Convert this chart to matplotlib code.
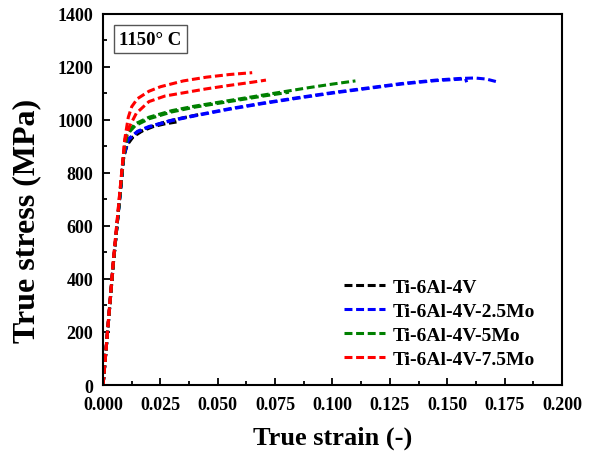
import matplotlib
matplotlib.use("Agg")
import matplotlib.pyplot as plt
from matplotlib.ticker import MultipleLocator, FormatStrFormatter

plt.rcParams['font.family'] = ['Liberation Serif', 'DejaVu Serif']
plt.rcParams['font.weight'] = 'bold'

# flow curves at 1150 C, two tests per alloy (strain, stress in MPa)
ti64_a_strain = [0, 0.0045, 0.0090, 0.0105, 0.013, 0.017, 0.022, 0.027, 0.032]
ti64_a_stress = [0, 460, 860, 905, 935, 958, 975, 985, 992]
ti64_b_strain = [0, 0.0045, 0.0090, 0.0105, 0.014, 0.020, 0.027, 0.035, 0.043]
ti64_b_stress = [0, 460, 860, 912, 945, 972, 992, 1008, 1022]

mo25_a_strain = [0, 0.0045, 0.009, 0.011, 0.015, 0.020, 0.030, 0.040, 0.055, 0.070,
                 0.085, 0.100, 0.115, 0.130, 0.145, 0.155, 0.158, 0.1585]
mo25_a_stress = [0, 460, 865, 925, 955, 973, 997, 1015, 1040, 1062,
                 1082, 1101, 1118, 1135, 1148, 1153, 1155, 1142]
mo25_b_strain = [0, 0.0045, 0.009, 0.011, 0.015, 0.020, 0.030, 0.040, 0.055, 0.070,
                 0.085, 0.100, 0.115, 0.130, 0.145, 0.155, 0.162, 0.167, 0.172]
mo25_b_stress = [0, 460, 865, 928, 957, 975, 999, 1017, 1042, 1064,
                 1084, 1103, 1120, 1137, 1150, 1156, 1158, 1154, 1143]

mo5_a_strain = [0, 0.0045, 0.009, 0.0105, 0.014, 0.020, 0.030, 0.040, 0.050, 0.060,
                0.070, 0.080, 0.090, 0.100, 0.110]
mo5_a_stress = [0, 460, 870, 950, 985, 1010, 1035, 1052, 1066, 1080,
                1094, 1108, 1122, 1135, 1147]
mo5_b_strain = [0, 0.0045, 0.009, 0.0105, 0.014, 0.020, 0.030, 0.040, 0.050, 0.060,
                0.070, 0.081]
mo5_b_stress = [0, 460, 870, 945, 978, 1004, 1030, 1048, 1062, 1076, 1090, 1104]

mo75_a_strain = [0, 0.0045, 0.0095, 0.011, 0.0125, 0.015, 0.020, 0.025, 0.035, 0.045,
                 0.055, 0.065]
mo75_a_stress = [0, 470, 930, 1010, 1050, 1080, 1108, 1125, 1147, 1161, 1171, 1178]
mo75_b_strain = [0, 0.0045, 0.0095, 0.0115, 0.0145, 0.020, 0.027, 0.035, 0.045, 0.055,
                 0.065, 0.071]
mo75_b_stress = [0, 470, 925, 975, 1025, 1069, 1090, 1102, 1117, 1130, 1142, 1150]

alloys = ["Ti-6Al-4V", "Ti-6Al-4V-2.5Mo", "Ti-6Al-4V-5Mo", "Ti-6Al-4V-7.5Mo"]
colors = ["black", "#0000ff", "#008000", "#ff0000"]
curves = [
    [(ti64_a_strain, ti64_a_stress), (ti64_b_strain, ti64_b_stress)],
    [(mo25_a_strain, mo25_a_stress), (mo25_b_strain, mo25_b_stress)],
    [(mo5_a_strain, mo5_a_stress), (mo5_b_strain, mo5_b_stress)],
    [(mo75_a_strain, mo75_a_stress), (mo75_b_strain, mo75_b_stress)],
]

fig = plt.figure(figsize=(5.89, 4.56), dpi=100)
ax = fig.add_axes([0.175, 0.1535, 0.779, 0.814])

for name, color, tests in zip(alloys, colors, curves):
    for i, (x, y) in enumerate(tests):
        ax.plot(x, y, color=color, lw=2.2, dashes=(2.6, 1.2),
                label=name if i == 0 else None)

ax.set_xlim(0, 0.2)
ax.set_ylim(0, 1400)
ax.xaxis.set_major_locator(MultipleLocator(0.025))
ax.xaxis.set_minor_locator(MultipleLocator(0.0125))
ax.yaxis.set_major_locator(MultipleLocator(200))
ax.yaxis.set_minor_locator(MultipleLocator(100))
ax.xaxis.set_major_formatter(FormatStrFormatter('%.3f'))
ax.tick_params(which='both', direction='in', top=False, right=False,
               labelsize=13, width=1.3)
ax.tick_params(axis='y', pad=7)
ax.tick_params(axis='x', pad=8)
ax.tick_params(which='major', length=5)
ax.tick_params(which='minor', length=3)
for s in ax.spines.values():
    s.set_linewidth(1.5)

ax.set_xlabel("True strain (-)", fontsize=19, fontweight='bold', labelpad=9)
ax.set_ylabel("True stress (MPa)", fontsize=23, fontweight='bold')
ax.yaxis.set_label_coords(-0.135, 0.445)

ax.text(0.035, 0.955, "1150° C", transform=ax.transAxes, fontsize=13.5,
        fontweight='bold', va='top', ha='left',
        bbox=dict(boxstyle='square,pad=0.3', fc='white', ec='#555555', lw=1))

ax.legend(loc='lower right', bbox_to_anchor=(0.98, 0.0), frameon=False,
          handlelength=2.1, handletextpad=0.4, labelspacing=0.32,
          prop={'weight': 'bold', 'size': 14})

fig.savefig("out.png", dpi=100)
